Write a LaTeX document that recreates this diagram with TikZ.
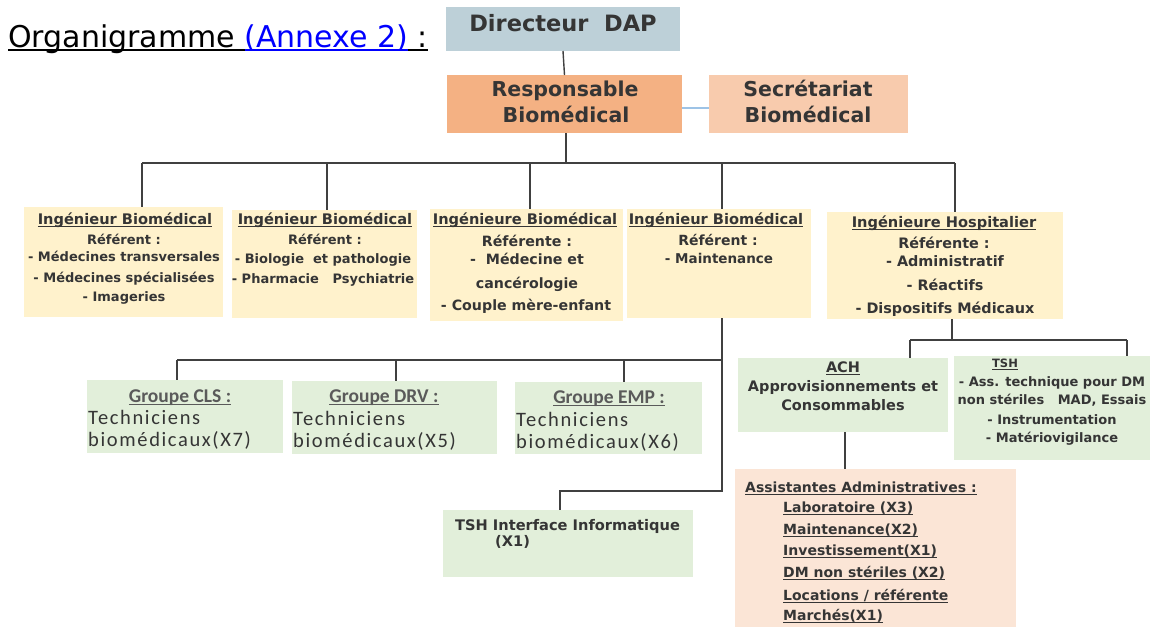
\documentclass[tikz,border=0pt]{standalone}
\usepackage{fontspec}
\setmainfont{DejaVu Sans}
\newfontfamily\calfont{Carlito}
\newfontfamily\calsp[LetterSpace=8]{Carlito}
\definecolor{txt}{HTML}{353535}
\definecolor{grt}{HTML}{5A5A5A}
\definecolor{ln}{HTML}{404040}
\definecolor{cdir}{HTML}{BDD0D8}
\definecolor{cresp}{HTML}{F4B183}
\definecolor{csec}{HTML}{F8CBAD}
\definecolor{cyel}{HTML}{FFF2CC}
\definecolor{cgrn}{HTML}{E2EFDA}
\definecolor{cpch}{HTML}{FBE5D6}
\definecolor{cblu}{HTML}{9DC3E6}
\definecolor{lnk}{HTML}{0000FF}
\newcommand\fsz[1]{\fontsize{#1}{#1}\selectfont}
\newsavebox\ulbox
\newcommand\myul[3]{\sbox\ulbox{#3}\rlap{\rule[#1]{\wd\ulbox}{#2}}\usebox\ulbox}
\newcommand\tu[1]{\myul{-2.5pt}{1pt}{#1}}
\tikzset{
  box/.style={draw=none, inner sep=0pt, outer sep=0pt},
  conn/.style={draw=ln, line width=1.4pt},
  tx/.style={inner sep=0pt, anchor=base, text=txt},
  txl/.style={tx, anchor=base west},
  grpt/.style={tx, text=grt},
}
\newcommand\tline[6][tx]{\node[#1,font=\bfseries#5] (#2) at (#3,#4) {#6};}
\begin{document}
\begin{tikzpicture}[x=1pt,y=-1pt]
\useasboundingbox (0,0) rectangle (1150,627);
% title
\node[anchor=base west, inner sep=0pt, font=\fsz{30}, text=black] (ttl) at (8,47)
  {\myul{-4pt}{1.6pt}{Organigramme\ }\textcolor{lnk}{\myul{-4pt}{1.6pt}{(Annexe 2)}}\myul{-4pt}{1.6pt}{\ :}};
% boxes
\node[box, fill=cdir, minimum width=234pt, minimum height=44pt] (dir) at (563,29) {};
\node[box, fill=cresp, minimum width=235pt, minimum height=58pt] (resp) at (564.5,104) {};
\node[box, fill=csec, minimum width=199pt, minimum height=58pt] (sec) at (808.5,104) {};
\node[box, fill=cyel, minimum width=199pt, minimum height=110pt] (ib1) at (123.5,262) {};
\node[box, fill=cyel, minimum width=185pt, minimum height=108pt] (ib2) at (324.5,264) {};
\node[box, fill=cyel, minimum width=193pt, minimum height=112pt] (ib3) at (526.5,265) {};
\node[box, fill=cyel, minimum width=184pt, minimum height=109pt] (ib4) at (719,263.5) {};
\node[box, fill=cyel, minimum width=236pt, minimum height=107pt] (ib5) at (945,265.5) {};
\node[box, fill=cgrn, minimum width=196pt, minimum height=73pt] (cls) at (185,416.5) {};
\node[box, fill=cgrn, minimum width=205pt, minimum height=73pt] (drv) at (394.5,417.5) {};
\node[box, fill=cgrn, minimum width=187pt, minimum height=72pt] (emp) at (608.5,418) {};
\node[box, fill=cgrn, minimum width=210pt, minimum height=74pt] (ach) at (843,395) {};
\node[box, fill=cgrn, minimum width=196pt, minimum height=104pt] (tsh) at (1052,408) {};
\node[box, fill=cgrn, minimum width=250pt, minimum height=67pt] (tshi) at (568,543.5) {};
\node[box, fill=cpch, minimum width=281pt, minimum height=158pt] (asst) at (875.5,548) {};
% connectors
\coordinate (bm) at (566,163);
\coordinate (b1) at (142,163);
\coordinate (b2) at (327,163);
\coordinate (b3) at (530,163);
\coordinate (b4) at (722,163);
\coordinate (b5) at (955,163);
\draw[conn] (dir.south) -- (resp.north);
\draw[conn] (resp.south -| bm) -- (bm);
\draw[conn] (b1) -- (b5);
\foreach \i in {1,...,5} {\draw[conn] (b\i) -- (b\i |- ib\i.north);}
\draw[draw=cblu, line width=2pt] ([yshift=-4pt]resp.east) -- ([yshift=-4pt]sec.west);
\coordinate (g0) at (722,360);
\coordinate (g1) at (177,360);
\coordinate (g2) at (396,360);
\coordinate (g3) at (624,360);
\coordinate (gt) at (722,491);
\coordinate (gs) at (560,491);
\draw[conn] (ib4.south -| g0) -- (gt) -- (gs) -- (gs |- tshi.north);
\draw[conn] (g1) -- (g0);
\draw[conn] (g1) -- (g1 |- cls.north);
\draw[conn] (g2) -- (g2 |- drv.north);
\draw[conn] (g3) -- (g3 |- emp.north);
\coordinate (r0) at (952,340);
\coordinate (r1) at (910,340);
\coordinate (r2) at (1127,340);
\draw[conn] (ib5.south -| r0) -- (r0);
\draw[conn] (r1) -- (r2);
\draw[conn] (r1) -- (r1 |- ach.north);
\draw[conn] (r2) -- (r2 |- tsh.north);
\coordinate (a0) at (845,432);
\draw[conn] (ach.south -| a0) -- (a0 |- asst.north);
% top texts
\tline{dirt}{563}{31}{\fsz{22.5}}{Directeur\ \ DAP}
\tline{respa}{565}{96.5}{\fsz{20.5}}{Responsable}
\tline{respb}{566}{122.5}{\fsz{20.5}}{Biomédical}
\tline{seca}{808}{96.5}{\fsz{20.5}}{Secrétariat}
\tline{secb}{808}{122.5}{\fsz{20.5}}{Biomédical}
% ib1
\tline{ia1}{125}{224.5}{\fsz{14.6}}{\tu{Ingénieur Biomédical}}
\tline{ia2}{124}{244.5}{\fsz{13}}{Référent :}
\tline{ia3}{124}{261.5}{\fsz{13}}{- Médecines transversales}
\tline{ia4}{124}{282}{\fsz{13}}{- Médecines spécialisées}
\tline{ia5}{124}{301.5}{\fsz{13}}{- Imageries}
% ib2
\tline{ib1t}{325}{224.5}{\fsz{14.6}}{\tu{Ingénieur Biomédical}}
\tline{ib2t}{325}{244.5}{\fsz{13}}{Référent :}
\tline{ib3t}{323}{263.5}{\fsz{13}}{- Biologie\ \ et pathologie}
\tline{ib4t}{323}{283}{\fsz{13}}{- Pharmacie\ \ \ Psychiatrie}
% ib3
\tline{ic1}{525}{224.5}{\fsz{14.6}}{\tu{Ingénieure Biomédical}}
\tline{ic2}{527}{246.5}{\fsz{14.2}}{Référente :}
\tline{ic3}{527}{264}{\fsz{14.2}}{-\ \ Médecine et}
\tline{ic4}{527}{288}{\fsz{14.2}}{cancérologie}
\tline{ic5}{526}{310}{\fsz{14.2}}{- Couple mère-enfant}
% ib4
\tline{id1}{716}{224.5}{\fsz{14.6}}{\tu{Ingénieur Biomédical}}
\tline{id2}{718}{245.5}{\fsz{14}}{Référent :}
\tline{id3}{719}{263.5}{\fsz{13.5}}{- Maintenance}
% ib5
\tline{ie1}{944}{227}{\fsz{14.6}}{\tu{Ingénieure Hospitalier}}
\tline{ie2}{944}{248.5}{\fsz{14.4}}{Référente :}
\tline{ie3}{945}{266}{\fsz{14.4}}{- Administratif}
\tline{ie4}{945}{290}{\fsz{14.4}}{- Réactifs}
\tline{ie5}{945}{313}{\fsz{14.4}}{- Dispositifs Médicaux}
% groups
\tline[grpt]{ga1}{180}{402}{\calfont\fsz{19.5}}{\tu{Groupe CLS :}}
\tline[txl]{ga2}{88}{424.5}{\mdseries\calsp\fsz{20.5}}{Techniciens}
\tline[txl]{ga3}{88}{446.5}{\mdseries\calsp\fsz{20.5}}{biomédicaux(X7)}
\tline[grpt]{gb1}{384}{402.5}{\calfont\fsz{19.5}}{\tu{Groupe DRV :}}
\tline[txl]{gb2}{293}{425}{\mdseries\calsp\fsz{20.5}}{Techniciens}
\tline[txl]{gb3}{293}{447}{\mdseries\calsp\fsz{20.5}}{biomédicaux(X5)}
\tline[grpt]{gc1}{609}{403}{\calfont\fsz{19.5}}{\tu{Groupe EMP :}}
\tline[txl]{gc2}{516}{426}{\mdseries\calsp\fsz{20.5}}{Techniciens}
\tline[txl]{gc3}{516}{448}{\mdseries\calsp\fsz{20.5}}{biomédicaux(X6)}
% TSH interface
\tline[txl]{ti1}{455}{530}{\fsz{14.6}}{TSH Interface Informatique}
\tline[txl]{ti2}{495}{546}{\fsz{14.6}}{(X1)}
% ACH
\tline{ac1}{843}{372}{\fsz{14.5}}{\tu{ACH}}
\tline{ac2}{843}{391}{\fsz{14.5}}{Approvisionnements et}
\tline{ac3}{843}{410}{\fsz{14.5}}{Consommables}
% TSH
\tline{ts1}{1005}{367}{\fsz{11.5}}{\tu{TSH}}
\tline{ts2}{1052}{386.5}{\fsz{13}}{- Ass. technique pour DM}
\tline{ts3}{1052}{404.5}{\fsz{13}}{non stériles\ \ \ MAD, Essais}
\tline{ts4}{1052}{424.5}{\fsz{13}}{- Instrumentation}
\tline{ts5}{1052}{442.5}{\fsz{13}}{- Matériovigilance}
% Assistantes
\tline[txl]{as0}{745}{492}{\fsz{14}}{\tu{Assistantes Administratives :}}
\tline[txl]{as1}{783}{512}{\fsz{14}}{\tu{Laboratoire (X3)}}
\tline[txl]{as2}{783}{534}{\fsz{14}}{\tu{Maintenance(X2)}}
\tline[txl]{as3}{783}{555}{\fsz{14}}{\tu{Investissement(X1)}}
\tline[txl]{as4}{783}{577}{\fsz{14}}{\tu{DM non stériles (X2)}}
\tline[txl]{as5}{783}{600}{\fsz{14}}{\tu{Locations / référente}}
\tline[txl]{as6}{783}{620}{\fsz{14}}{\tu{Marchés(X1)}}
\end{tikzpicture}
\end{document}
